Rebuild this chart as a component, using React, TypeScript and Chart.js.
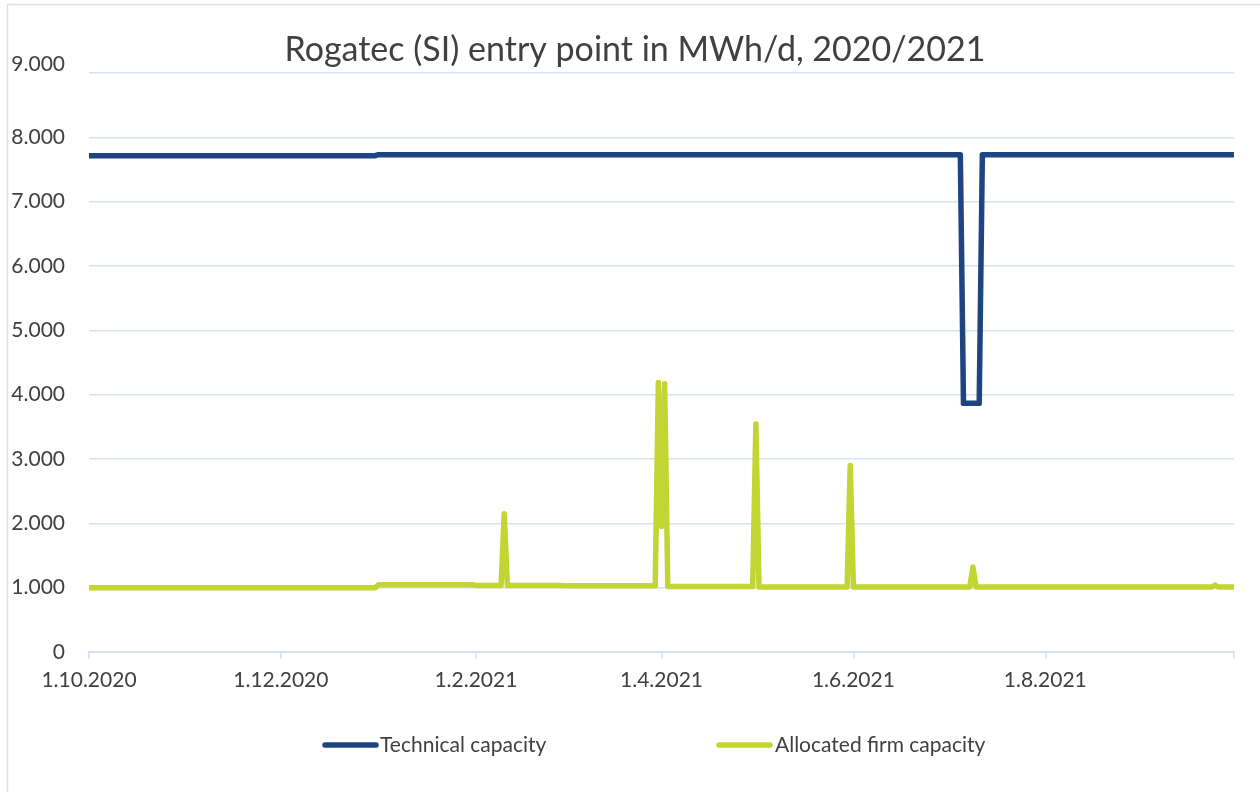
import React, { useEffect, useRef } from 'react';
import { Chart, registerables } from 'chart.js';

Chart.register(...registerables);

// ---- data (day index from 1.10.2020) ----
const tickDays = [0, 61, 123, 182, 243, 304, 364];
const tickLabels = ['1.10.2020', '1.12.2020', '1.2.2021', '1.4.2021', '1.6.2021', '1.8.2021', ''];

const techDays = [0, 91, 92, 277, 278, 283, 284, 364];
const techValues = [7715, 7715, 7730, 7730, 3865, 3865, 7730, 7730];

const allocDays = [0, 91, 92, 122, 123, 131, 132, 133, 150, 151, 180, 181, 182, 183, 184, 211, 212, 213, 241, 242, 243, 280, 281, 282, 357, 358, 359, 364];
const allocValues = [1000, 1000, 1045, 1045, 1035, 1035, 2150, 1035, 1035, 1030, 1030, 4190, 1950, 4170, 1020, 1020, 3545, 1010, 1010, 2900, 1010, 1010, 1320, 1010, 1010, 1040, 1010, 1010];

const seriesNames = ['Technical capacity', 'Allocated firm capacity'];
const seriesColors = ['#1f4484', '#c3d532'];
const titleText = 'Rogatec (SI) entry point in MWh/d, 2020/2021';

const FONT = 'Lato, "Open Sans", sans-serif';
const TEXT = '#404040';
const GRID = '#d7e1f2';

function fmt(v: number): string {
  if (v === 0) return '0';
  return String(v).replace(/\B(?=(\d{3})+(?!\d))/g, '.');
}

const frameAndTextPlugin = {
  id: 'frameAndText',
  beforeDraw(chart: any) {
    const ctx = chart.ctx;
    ctx.save();
    ctx.fillStyle = '#ffffff';
    ctx.fillRect(0, 0, chart.width, chart.height);
    ctx.strokeStyle = GRID;
    ctx.lineWidth = 1.5;
    ctx.beginPath();
    ctx.moveTo(7.5, chart.height + 5);
    ctx.lineTo(7.5, 4.5);
    ctx.lineTo(chart.width + 5, 4.5);
    ctx.stroke();
    ctx.restore();
  },
  afterDraw(chart: any) {
    const ctx = chart.ctx;
    ctx.save();
    // title
    ctx.fillStyle = TEXT;
    ctx.font = `34px ${FONT}`;
    ctx.textAlign = 'center';
    ctx.textBaseline = 'alphabetic';
    ctx.fillText(titleText, 635, 61);
    // legend
    const items = [
      { x: 323, len: 55, tx: 380 },
      { x: 717, len: 55, tx: 775 },
    ];
    const ly = 745;
    ctx.font = `21px ${FONT}`;
    ctx.textAlign = 'left';
    ctx.textBaseline = 'middle';
    items.forEach((it, i) => {
      ctx.strokeStyle = seriesColors[i];
      ctx.lineWidth = 5.5;
      ctx.lineCap = 'round';
      ctx.beginPath();
      ctx.moveTo(it.x + 2, ly);
      ctx.lineTo(it.x + it.len - 2, ly);
      ctx.stroke();
      ctx.fillStyle = TEXT;
      ctx.fillText(seriesNames[i], it.tx, ly);
    });
    ctx.restore();
  },
};

export default function App() {
  const ref = useRef<HTMLCanvasElement | null>(null);

  useEffect(() => {
    if (!ref.current) return;
    const chart = new Chart(ref.current, {
      type: 'line',
      data: {
        datasets: [
          {
            label: seriesNames[0],
            data: techDays.map((d, i) => ({ x: d, y: techValues[i] })),
            borderColor: seriesColors[0],
            backgroundColor: seriesColors[0],
            borderWidth: 5.5,
            pointRadius: 0,
            tension: 0,
            borderJoinStyle: 'round',
            borderCapStyle: 'butt',
          },
          {
            label: seriesNames[1],
            data: allocDays.map((d, i) => ({ x: d, y: allocValues[i] })),
            borderColor: seriesColors[1],
            backgroundColor: seriesColors[1],
            borderWidth: 5.5,
            pointRadius: 0,
            tension: 0,
            borderJoinStyle: 'round',
            borderCapStyle: 'butt',
          },
        ],
      },
      options: {
        responsive: false,
        animation: false,
        events: [],
        layout: { padding: { top: 73, left: 0, right: 26, bottom: 80 } },
        plugins: {
          legend: { display: false },
          title: { display: false },
          tooltip: { enabled: false },
        },
        scales: {
          x: {
            type: 'linear',
            min: 0,
            max: 364,
            afterFit(scale: any) {
              scale.height = 60;
            },
            afterBuildTicks(scale: any) {
              scale.ticks = tickDays.map((v) => ({ value: v }));
            },
            grid: {
              drawOnChartArea: false,
              drawTicks: true,
              tickLength: 7,
              color: GRID,
              lineWidth: 1.5,
            },
            border: { display: true, color: GRID, width: 2 },
            ticks: {
              autoSkip: false,
              maxRotation: 0,
              padding: 9,
              color: TEXT,
              font: { family: FONT, size: 21 },
              callback(value: any) {
                const i = tickDays.indexOf(Number(value));
                return i >= 0 ? tickLabels[i] : '';
              },
            },
          },
          y: {
            min: 0,
            max: 9000,
            afterFit(scale: any) {
              scale.width = 89;
            },
            grid: { color: GRID, lineWidth: 1.5, drawTicks: false },
            border: { display: false },
            ticks: {
              stepSize: 1000,
              padding: 24,
              color: TEXT,
              font: { family: FONT, size: 21, lineHeight: 0.8 },
              callback(value: any) {
                const v = Number(value);
                return v === 9000 ? [fmt(v), ''] : fmt(v);
              },
            },
          },
        },
      } as any,
      plugins: [frameAndTextPlugin],
    });
    return () => chart.destroy();
  }, []);

  return (
    <div style={{ position: 'fixed', left: 0, top: 0, width: 1260, height: 792, background: '#fff' }}>
      <canvas ref={ref} width={1260} height={792} style={{ width: 1260, height: 792, display: 'block' }} />
    </div>
  );
}
